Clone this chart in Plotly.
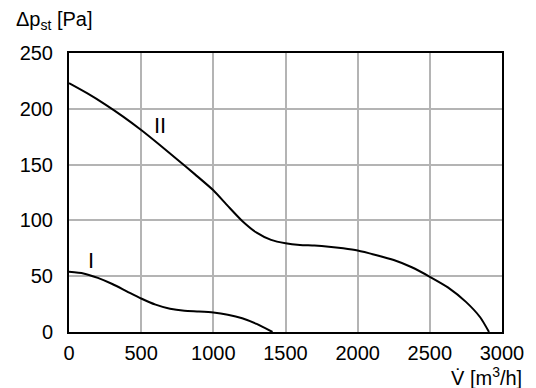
import plotly.graph_objects as go

# Curve II
flow_II = [0, 125, 250, 375, 500, 625, 750, 875, 1000, 1100, 1200, 1300, 1400, 1500, 1600, 1700,
           1800, 1900, 2000, 2125, 2250, 2375, 2500, 2625, 2750, 2850, 2910]
press_II = [223, 214, 204, 193, 181, 168, 154.5, 141, 127, 113, 99.5, 89, 82.5, 79.5, 78, 77.5,
            76.5, 75, 73, 69, 64.5, 58, 49.5, 40, 27, 13, 0]

# Curve I
flow_I = [0, 100, 200, 300, 400, 500, 600, 700, 800, 900, 1000, 1100, 1200, 1300, 1410]
press_I = [54, 52.5, 48.5, 43, 36.5, 30, 24.5, 20.8, 19, 18.4, 17.5, 15.5, 12.3, 7.2, 0]

curve_labels = ["I", "II"]
label_pos = [(150, 64), (630, 185)]

x_ticks = [0, 500, 1000, 1500, 2000, 2500, 3000]
y_ticks = [0, 50, 100, 150, 200, 250]

FONT = "Liberation Sans"

fig = go.Figure()
for fx, py in [(flow_II, press_II), (flow_I, press_I)]:
    fig.add_trace(go.Scatter(x=fx, y=py, mode="lines",
                             line=dict(color="black", width=2, shape="spline", smoothing=0.6),
                             showlegend=False, hoverinfo="skip", cliponaxis=False))

for lab, (lx, ly) in zip(curve_labels, label_pos):
    fig.add_annotation(x=lx, y=ly, text=lab, showarrow=False,
                       font=dict(family=FONT, size=22, color="black"))

fig.add_annotation(xref="paper", yref="paper", x=-0.128, y=1.118, xanchor="left", yanchor="middle",
                   text="Δp<sub>st</sub> [Pa]", showarrow=False,
                   font=dict(family=FONT, size=20, color="black"))
fig.add_annotation(xref="paper", yref="paper", x=1.05, y=-0.158, xanchor="right", yanchor="middle",
                   text="V\u0307 [m<sup>3</sup>/h]", showarrow=False,
                   font=dict(family=FONT, size=20, color="black"))

axis_common = dict(showline=True, linecolor="black", linewidth=2, mirror=True,
                   showgrid=True, gridcolor="#b4b4b4", gridwidth=1.5,
                   zeroline=False, ticks="", tickfont=dict(family=FONT, size=20, color="black"))

fig.update_xaxes(range=[0, 3000], tickvals=x_ticks, ticktext=[str(v) for v in x_ticks],
                 ticklabelstandoff=2, **axis_common)
fig.update_yaxes(range=[0, 250], tickvals=y_ticks, ticktext=[str(v) for v in y_ticks],
                 ticklabelstandoff=10, **axis_common)

# page body has an 8px margin, so the figure is sized to fit the window after that offset
fig.update_layout(width=528, height=380, margin=dict(l=56, r=34, t=45, b=56),
                  plot_bgcolor="white", paper_bgcolor="white",
                  font=dict(family=FONT, color="black"))

fig.write_html("out.html")
